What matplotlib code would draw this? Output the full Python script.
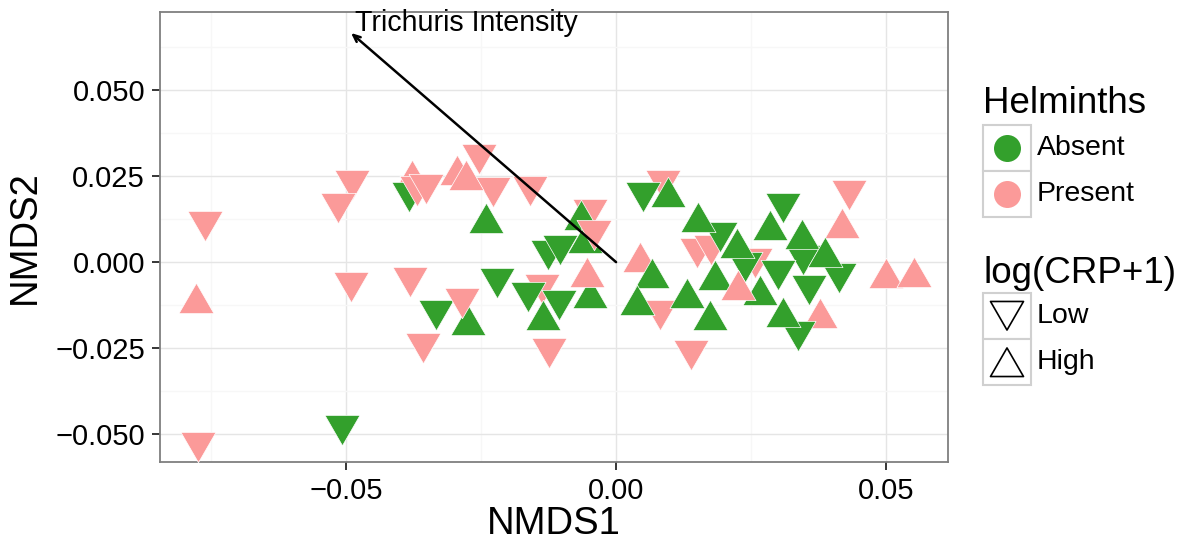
import matplotlib
matplotlib.use('Agg')
import numpy as np
import matplotlib.pyplot as plt
from matplotlib.path import Path
from matplotlib.patches import Rectangle

plt.rcParams['font.family'] = ['Liberation Sans', 'DejaVu Sans']
plt.rcParams['axes.unicode_minus'] = True

# ---------------- data ----------------
# drawing order matters for overlaps
nmds1 = [
    -0.0762, -0.0775, -0.0489, -0.0515, -0.0491, -0.0382, -0.0254, -0.0228,
    -0.0159, -0.0048, -0.0137, -0.0358, -0.0124, 0.0087, 0.0150, 0.0176,
    0.0082, 0.0139, 0.0258, 0.0432,
    -0.0778, -0.0378, -0.0295, -0.0278, 0.0044, 0.0378, 0.0419, 0.0500, 0.0552,
    -0.0384, -0.0508, -0.0126, -0.0104, -0.0220, -0.0334, -0.0163, -0.0106,
    0.0050, 0.0193, 0.0309, 0.0346, 0.0413, 0.0358, 0.0300, 0.0337, 0.0239,
    -0.0241, -0.0065, -0.0057, -0.0048, -0.0135, -0.0274, 0.0096, 0.0067,
    0.0039, 0.0132, 0.0152, 0.0224, 0.0285, 0.0345, 0.0387, 0.0267, 0.0183,
    0.0174, 0.0309,
    -0.0369, -0.0352, -0.0041, -0.0054, 0.0226, -0.0285,
]
nmds2 = [
    0.0119, -0.0523, 0.0238, 0.0172, -0.0058, -0.0044, 0.0314, 0.0218,
    0.0221, 0.0154, -0.0064, -0.0235, -0.0250, 0.0238, 0.0041, 0.0049,
    -0.0140, -0.0256, 0.0012, 0.0209,
    -0.0119, 0.0238, 0.0253, 0.0238, 0.0000, -0.0163, 0.0099, -0.0047, -0.0044,
    0.0203, -0.0474, 0.0035, 0.0049, -0.0047, -0.0140, -0.0087, -0.0110,
    0.0203, 0.0087, 0.0172, 0.0020, -0.0032, -0.0067, -0.0023, -0.0201, 0.0000,
    0.0113, 0.0122, 0.0055, -0.0105, -0.0169, -0.0183, 0.0189, -0.0047,
    -0.0125, -0.0105, 0.0116, 0.0041, 0.0093, 0.0067, 0.0015, -0.0096, -0.0052,
    -0.0169, -0.0160,
    0.0221, 0.0227, 0.0093, -0.0044, -0.0081, -0.0105,
]
helminths = (['Present'] * 20 + ['Present'] * 9 + ['Absent'] * 17 +
             ['Absent'] * 19 + ['Present'] * 6)
crp = (['Low'] * 20 + ['High'] * 9 + ['Low'] * 17 + ['High'] * 19 +
       ['Low', 'Low', 'Low', 'High', 'High', 'Low'])

arrow_end = (-0.0491, 0.0666)
arrow_label = 'Trichuris Intensity'

helminth_levels = ['Absent', 'Present']
crp_levels = ['Low', 'High']
colors = {'Absent': '#33A02C', 'Present': '#FB9A99'}

x_ticks = [-0.05, 0.00, 0.05]
x_ticklabels = ['\u22120.05', '0.00', '0.05']
y_ticks = [-0.050, -0.025, 0.000, 0.025, 0.050]
y_ticklabels = ['\u22120.050', '\u22120.025', '0.000', '0.025', '0.050']

# ---------------- markers ----------------
h = np.sqrt(3) / 2
codes = [Path.MOVETO, Path.LINETO, Path.LINETO, Path.CLOSEPOLY]
up_path = Path([(0, 2 * h / 3), (-0.5, -h / 3), (0.5, -h / 3), (0, 2 * h / 3)], codes)
down_path = Path([(0, -2 * h / 3), (-0.5, h / 3), (0.5, h / 3), (0, -2 * h / 3)], codes)
shape = {'Low': down_path, 'High': up_path}

W, H = 1187, 544
fig = plt.figure(figsize=(W / 100, H / 100), dpi=100)
L, R, T, B = 160, 948, 12, 462
ax = fig.add_axes([L / W, 1 - B / H, (R - L) / W, (B - T) / H])

ms = 35 * 0.72 / 0.866
for i, (x, y, hl, c) in enumerate(zip(nmds1, nmds2, helminths, crp)):
    ax.scatter([x], [y], s=ms ** 2, marker=shape[c], facecolor=colors[hl],
               edgecolor='white', linewidths=0.5, zorder=3 + i * 0.001)

ax.annotate('', xy=arrow_end, xytext=(0, 0),
            arrowprops=dict(arrowstyle='->,head_length=0.5,head_width=0.22',
                            lw=1.8, color='black', shrinkA=0, shrinkB=0),
            zorder=5)
ax.text(arrow_end[0] + 0.0008, arrow_end[1] + 0.0006, arrow_label, fontsize=20.6,
        ha='left', va='baseline', zorder=6)

ax.set_xlim(-0.0845, 0.0615)
ax.set_ylim(-0.0581, 0.0727)
ax.set_xticks(x_ticks)
ax.set_xticklabels(x_ticklabels)
ax.set_yticks(y_ticks)
ax.set_yticklabels(y_ticklabels)
ax.set_xticks([-0.075, -0.025, 0.025], minor=True)
ax.set_yticks([-0.0375, -0.0125, 0.0125, 0.0375, 0.0625], minor=True)
ax.grid(True, which='major', color='#E5E5E5', lw=1.0, zorder=0)
ax.grid(True, which='minor', color='#F7F7F7', lw=1.0, zorder=0)
ax.set_axisbelow(True)
ax.tick_params(which='major', direction='out', length=5.8, width=1.1,
               color='black', labelsize=21, pad=5)
ax.tick_params(which='minor', length=0)
for s in ax.spines.values():
    s.set_color('#7F7F7F')
    s.set_linewidth(1.3)

ax.set_xlabel('NMDS1', fontsize=27.5, va='baseline')
ax.xaxis.set_label_coords(0.5, -(534 - B) / (B - T))
ax.set_ylabel('NMDS2', fontsize=27.5, va='center')
ax.yaxis.set_label_coords(-(160 - 25) / (R - L), 0.5)

# ---------------- legends (drawn in pixel coords) ----------------
lg = fig.add_axes([0, 0, 1, 1], zorder=10)
lg.set_xlim(0, W)
lg.set_ylim(H, 0)
lg.axis('off')
lg.patch.set_alpha(0)

kx, kw, kh = 983, 48, 46
lg.text(983, 113, 'Helminths', fontsize=26.5, ha='left', va='baseline')
for j, lvl in enumerate(helminth_levels):
    top = 125 + j * kh
    lg.add_patch(Rectangle((kx, top), kw, kh, facecolor='white',
                           edgecolor='#D0D0D0', lw=1.5))
    lg.plot([kx + kw / 2], [top + kh / 2], 'o', ms=27 * 0.72,
            color=colors[lvl], mec='none')
    lg.text(1037, top + kh / 2, lvl, fontsize=20.5, ha='left', va='center')

lg.text(983, 283, 'log(CRP+1)', fontsize=26.5, ha='left', va='baseline')
lms = 33 * 0.72 / 0.866
for j, lvl in enumerate(crp_levels):
    top = 293 + j * kh
    lg.add_patch(Rectangle((kx, top), kw, kh, facecolor='white',
                           edgecolor='#D0D0D0', lw=1.5))
    cy = top + kh / 2 + (-5 if lvl == 'Low' else 5)
    lg.scatter([kx + kw / 2], [cy], s=lms ** 2, marker=shape[lvl],
               facecolor='none', edgecolor='black', linewidths=1.2)
    lg.text(1037, top + kh / 2, lvl, fontsize=20.5, ha='left', va='center')

fig.savefig('out.png', dpi=100)
